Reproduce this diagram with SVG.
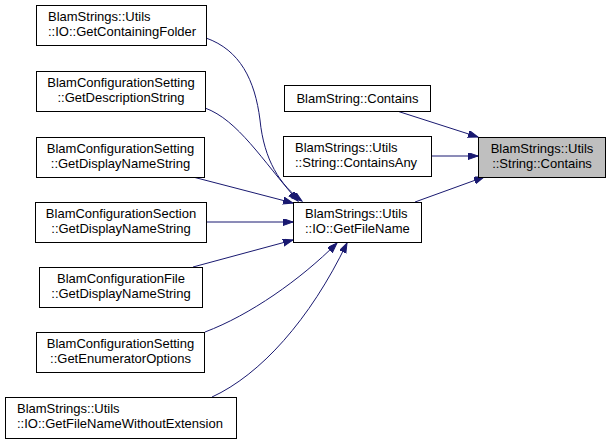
<svg xmlns="http://www.w3.org/2000/svg" width="611" height="444" viewBox="0 0 611 444">
<style>
.box{fill:#ffffff;stroke:#000000;stroke-width:1}
.cur{fill:#bfbfbf;stroke:#000000;stroke-width:1}
text{font-family:"Liberation Sans",Arial,sans-serif;font-size:13px;fill:#000000}
.c{text-anchor:middle}
.edge{fill:none;stroke:#191970;stroke-width:1;marker-end:url(#ah)}
</style>
<defs>
<marker id="ah" markerUnits="userSpaceOnUse" markerWidth="11" markerHeight="8" refX="10" refY="3.5" orient="auto">
<path d="M0,0 L10,3.5 L0,7 z" fill="#191970" stroke="#191970" stroke-width="1"/>
</marker>
</defs>
<rect width="611" height="444" fill="#ffffff"/>
<g id="edges">
<path class="edge" d="M397,111 L478,137"/>
<path class="edge" d="M431,156 L478,156"/>
<path class="edge" d="M415,202 L484,177"/>
<path class="edge" d="M206,38 C240,50 255,80 260,120 C264,160 280,185 302,201"/>
<path class="edge" d="M205,108 C238,120 262,160 298,201"/>
<path class="edge" d="M193,177 L293,203"/>
<path class="edge" d="M206,222 L293,222"/>
<path class="edge" d="M193,267 L293,240"/>
<path class="edge" d="M205,332 C250,315 300,280 337,243"/>
<path class="edge" d="M212,397 C260,375 310,320 347,243"/>
</g>
<g id="n1"><rect class="box" x="36.5" y="5.5" width="170" height="40"/><text x="48" y="21">BlamStrings::Utils</text><text x="48" y="36">::IO::GetContainingFolder</text></g>
<g id="n2"><rect class="box" x="36.5" y="71.5" width="169" height="40"/><text class="c" x="121" y="87">BlamConfigurationSetting</text><text class="c" x="121" y="102">::GetDescriptionString</text></g>
<g id="n3"><rect class="box" x="36.5" y="137.5" width="168" height="40"/><text class="c" x="120.5" y="153">BlamConfigurationSetting</text><text class="c" x="120.5" y="168">::GetDisplayNameString</text></g>
<g id="n4"><rect class="box" x="35.5" y="202.5" width="171" height="40"/><text class="c" x="121" y="218">BlamConfigurationSection</text><text class="c" x="121" y="233">::GetDisplayNameString</text></g>
<g id="n5"><rect class="box" x="39.5" y="267.5" width="163" height="40"/><text class="c" x="121" y="283">BlamConfigurationFile</text><text class="c" x="121" y="298">::GetDisplayNameString</text></g>
<g id="n6"><rect class="box" x="36.5" y="332.5" width="168" height="40"/><text class="c" x="120.5" y="348">BlamConfigurationSetting</text><text class="c" x="120.5" y="363">::GetEnumeratorOptions</text></g>
<g id="n7"><rect class="box" x="5.5" y="397.5" width="231" height="41"/><text x="17" y="413">BlamStrings::Utils</text><text x="17" y="428">::IO::GetFileNameWithoutExtension</text></g>
<g id="n8"><rect class="box" x="293.5" y="202.5" width="128" height="40"/><text x="305" y="218">BlamStrings::Utils</text><text x="305" y="233">::IO::GetFileName</text></g>
<g id="n9"><rect class="box" x="284.5" y="85.5" width="146" height="26"/><text class="c" x="357.5" y="103">BlamString::Contains</text></g>
<g id="n10"><rect class="box" x="283.5" y="136.5" width="148" height="40"/><text x="295" y="152">BlamStrings::Utils</text><text x="295" y="167">::String::ContainsAny</text></g>
<g id="n11"><rect class="cur" x="478.5" y="137.5" width="127" height="40"/><text class="c" x="542" y="153">BlamStrings::Utils</text><text class="c" x="542" y="168">::String::Contains</text></g>
</svg>
